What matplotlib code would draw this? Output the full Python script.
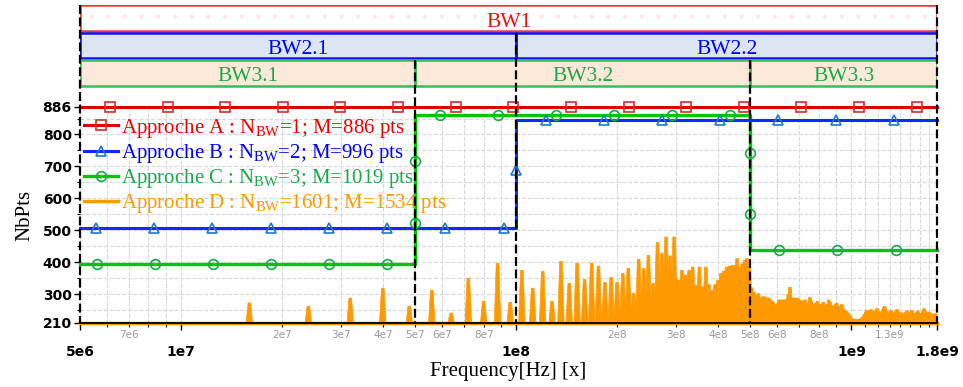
import numpy as np
import matplotlib
matplotlib.use('Agg')
import matplotlib.pyplot as plt
from matplotlib.lines import Line2D
from matplotlib.patches import Rectangle

plt.rcParams['mathtext.fontset'] = 'custom'
plt.rcParams['mathtext.rm'] = 'Liberation Serif'
plt.rcParams['mathtext.it'] = 'Liberation Serif:italic'
plt.rcParams['hatch.linewidth'] = 0.4

SERIF = 'Liberation Serif'

# ---------------- data ----------------
F_MIN, F_MAX = 5e6, 1.8e9
Y_MIN, Y_MAX = 210, 886

# Approche A
A_freq = [5e6, 1.8e9]
A_val = [886, 886]
A_marks = [(6.14e6, 1.565e9, 15, 886)]

# Approche B
B_freq = [5e6, 1e8, 1e8, 1e8, 1.8e9]
B_val = [508, 508, 690, 846, 846]
B_marks = [(5.58e6, 9.17e7, 8, 508), (1e8, 1e8, 1, 690), (1.23e8, 1.336e9, 7, 846)]

# Approche C
C_freq = [5e6, 5e7, 5e7, 5e7, 5e7, 5e8, 5e8, 5e8, 5e8, 1.8e9]
C_val = [395, 395, 524, 718, 860, 860, 743, 551, 440, 440]
C_marks = [(5.62e6, 4.12e7, 6, 395), (5e7, 5e7, 1, 524), (5e7, 5e7, 1, 718),
           (5.94e7, 4.33e8, 6, 860), (5e8, 5e8, 1, 743), (5e8, 5e8, 1, 551),
           (6.1e8, 1.354e9, 3, 440)]

# Approche D : NbPts at each harmonic of the 8 MHz fundamental
D_fund = 8e6
D_val = [
    213, 273, 263, 288, 319, 263, 313, 241, 350, 278,
    397, 275, 375, 319, 372, 278, 403, 334, 397, 346,
    397, 388, 337, 353, 337, 365, 381, 303, 409, 381,
    422, 334, 462, 428, 479, 420, 479, 344, 375, 360,
    375, 385, 328, 385, 323, 385, 330, 312, 330, 344,
    365, 372, 385, 388, 390, 390, 412, 385, 395, 406,
    412, 380, 320, 307, 300, 302, 288, 292, 292, 288,
    288, 280, 276, 257, 270, 282, 282, 282, 282, 282,
    300, 322, 288, 288, 288, 288, 285, 270, 280, 275,
    282, 270, 272, 290, 278, 268, 265, 272, 278, 268,
    262, 268, 275, 265, 260, 268, 282, 275, 265, 262,
    258, 268, 272, 262, 258, 262, 268, 255, 250, 248,
    245, 240, 236, 230, 225, 222, 220, 222, 220, 218,
    220, 222, 220, 225, 228, 232, 238, 245, 250, 242,
    238, 245, 252, 248, 242, 238, 245, 250, 255, 248,
    242, 238, 240, 245, 250, 258, 262, 252, 245, 240,
    236, 240, 245, 250, 245, 240, 236, 238, 242, 248,
    252, 245, 240, 236, 238, 242, 238, 235, 232, 236,
    240, 245, 248, 242, 238, 236, 240, 245, 250, 246,
    240, 236, 232, 235, 240, 244, 248, 242, 238, 234,
    232, 236, 240, 245, 250, 255, 248, 242, 236, 232,
    236, 240, 244, 240, 236, 232, 236, 238, 234, 230,
    232, 236, 240, 236, 230,
]

legend_labels = [
    'Approche A : $\\mathrm{N_{BW}}$=1; M=886 pts',
    'Approche B : $\\mathrm{N_{BW}}$=2; M=996 pts',
    'Approche C : $\\mathrm{N_{BW}}$=3; M=1019 pts',
    'Approche D : $\\mathrm{N_{BW}}$=1601; M=1534 pts',
]

# bandwidth partitions
BW1 = [(5e6, 1.8e9, 'BW1')]
BW2 = [(5e6, 1e8, 'BW2.1'), (1e8, 1.8e9, 'BW2.2')]
BW3 = [(5e6, 5e7, 'BW3.1'), (5e7, 5e8, 'BW3.2'), (5e8, 1.8e9, 'BW3.3')]

y_major = [210, 300, 400, 500, 600, 700, 800, 886]
y_minor = [250, 350, 450, 550, 650, 750, 850]
x_major = [5e6, 1e7, 1e8, 1e9, 1.8e9]
x_major_lbl = ['5e6', '1e7', '1e8', '1e9', '1.8e9']
x_minor = [6e6, 7e6, 8e6, 9e6,
           2e7, 3e7, 4e7, 5e7, 6e7, 7e7, 8e7, 9e7,
           2e8, 3e8, 4e8, 5e8, 6e8, 7e8, 8e8, 9e8,
           1.1e9, 1.2e9, 1.3e9, 1.4e9, 1.5e9, 1.6e9, 1.7e9]
x_minor_lbl = ['', '7e6', '', '',
               '2e7', '3e7', '4e7', '5e7', '6e7', '', '8e7', '',
               '2e8', '3e8', '4e8', '5e8', '6e8', '', '8e8', '',
               '', '', '1.3e9', '', '', '', '']

# ---------------- styles ----------------
colA_line, colA_mk, colA_txt = '#dd0000', '#c83232', '#ee0000'
colB_line, colB_mk, colB_txt = '#0a2cff', '#1f78d0', '#0000ff'
colC_line, colC_mk, colC_txt = '#00c800', '#1aa84d', '#1aa84d'
colD = '#ff9900'

W, H = 963, 387
fig = plt.figure(figsize=(W / 100, H / 100), dpi=100)
ax = fig.add_axes([80 / W, (H - 323) / H, 857 / W, 216 / H])
ax.set_xscale('log')
ax.set_xlim(F_MIN, F_MAX)
ax.set_ylim(Y_MIN, Y_MAX)

# grid
ax.set_xticks(x_major)
ax.set_xticklabels(x_major_lbl)
ax.set_xticks(x_minor, minor=True)
ax.set_xticklabels(x_minor_lbl, minor=True)
ax.set_yticks(y_major)
ax.set_yticks(y_minor, minor=True)
ax.grid(True, which='both', ls='--', color='#d8d8d8', lw=0.8)
ax.set_axisbelow(True)

for sp in ['top', 'right', 'left']:
    ax.spines[sp].set_visible(False)
ax.spines['bottom'].set_linewidth(1.3)

ax.tick_params(axis='x', which='major', length=5, width=1, pad=11,
               labelsize=10)
ax.tick_params(axis='x', which='minor', length=3, width=0.8, pad=2,
               labelsize=7.5, labelcolor='#9a9a9a')
ax.tick_params(axis='y', which='major', length=4, width=1, pad=2, labelsize=10)
ax.tick_params(axis='y', which='minor', length=2.5, width=0.8)
for lbl in ax.get_xticklabels() + ax.get_yticklabels():
    lbl.set_fontweight('bold')
    lbl.set_family('DejaVu Sans')

# ---- D spectrum ----
a_half, b_half = 0.022, 0.009
for k, h in enumerate(D_val, start=1):
    f = D_fund * k
    xs = [f * (1 - a_half), f * (1 - b_half), f * (1 + b_half), f * (1 + a_half)]
    ax.fill(xs, [Y_MIN, h, h, Y_MIN], facecolor=colD, edgecolor=colD,
            lw=0.5, zorder=2)
ax.plot([F_MIN, F_MAX], [Y_MIN, Y_MIN], color=colD, lw=2.5, zorder=2.2,
        clip_on=False)


def draw_marks(segments, marker, color, ms):
    for f0, f1, n, lvl in segments:
        fs = np.geomspace(f0, f1, n)
        ax.plot(fs, [lvl] * n, ls='none', marker=marker, mfc='none',
                mec=color, ms=ms, mew=1.2, zorder=5, clip_on=False)


ax.plot(C_freq, C_val, color=colC_line, lw=2.4, zorder=3, clip_on=False)
ax.plot(B_freq, B_val, color=colB_line, lw=2.2, zorder=3.2, clip_on=False)
ax.plot(A_freq, A_val, color=colA_line, lw=2.2, zorder=3.4, clip_on=False)
draw_marks(C_marks, 'o', colC_mk, 7)
draw_marks(B_marks, '^', colB_mk, 6.5)
draw_marks(A_marks, 's', colA_mk, 7)

ax.set_ylabel('NbPts', family=SERIF, fontsize=15, labelpad=6)
ax.set_xlabel('Frequency[Hz] [x]', family=SERIF, fontsize=15, labelpad=2)

handles = [
    Line2D([], [], color=colA_line, lw=2.2, marker='s', mfc='none', mec=colA_mk, ms=7, mew=1.2),
    Line2D([], [], color=colB_line, lw=2.2, marker='^', mfc='none', mec=colB_mk, ms=6.5, mew=1.2),
    Line2D([], [], color=colC_line, lw=2.4, marker='o', mfc='none', mec=colC_mk, ms=7, mew=1.2),
    Line2D([], [], color=colD, lw=2.5),
]
leg = ax.legend(handles, legend_labels, loc='upper left',
                bbox_to_anchor=(0.005, 0.955), frameon=False,
                prop={'family': SERIF, 'size': 15}, handlelength=1.6,
                handletextpad=0.15, labelspacing=0.1, borderpad=0,
                borderaxespad=0, numpoints=1)
leg.set_zorder(6)
for t, c in zip(leg.get_texts(), [colA_txt, colB_txt, colC_txt, colD]):
    t.set_color(c)

# ---- overlay: bandwidth boxes and boundaries ----
ov = fig.add_axes([80 / W, (H - 323) / H, 857 / W, 318 / H], zorder=10)
ov.set_xscale('log')
ov.set_xlim(F_MIN, F_MAX)
ov.set_ylim(323, 5)
ov.axis('off')
ov.patch.set_alpha(0)

rows = [
    (BW1, 5, 26, 'white', '#f03838', '#ee1111', 27),
    (BW2, 33, 25, '#dce6f2', '#1010ff', '#0000ff', 54),
    (BW3, 60, 26, '#fde9d9', '#3cba5a', '#1aa84d', 81),
]
for bands, y0, hgt, fc, ec, tc, base in rows:
    for f0, f1, name in bands:
        if fc == 'white':
            ov.add_patch(Rectangle((f0, y0), f1 - f0, hgt, facecolor='white',
                                   edgecolor='#fbe6e6', lw=0, hatch='.',
                                   zorder=1))
        else:
            ov.add_patch(Rectangle((f0, y0), f1 - f0, hgt, facecolor=fc,
                                   edgecolor='none', zorder=1))
        ov.add_patch(Rectangle((f0, y0), f1 - f0, hgt, facecolor='none',
                               edgecolor=ec, lw=1.8, zorder=2))
        ov.text(np.sqrt(f0 * f1), base, name, ha='center', va='baseline',
                family=SERIF, fontsize=15.5, color=tc, zorder=3)

bounds = [(5e6, 5), (5e7, 60), (1e8, 33), (5e8, 60), (1.8e9, 5)]
for f, ytop in bounds:
    ov.plot([f, f], [ytop, 323], color='black', lw=1.6, ls=(0, (4, 1.6)),
            zorder=4, clip_on=False)

fig.savefig('out.png', dpi=100)
